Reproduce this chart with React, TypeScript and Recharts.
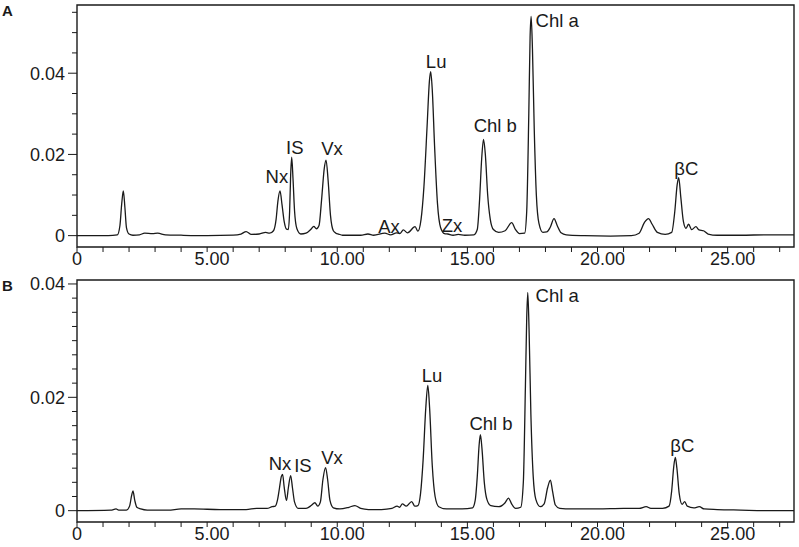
import React from "react";
import {
  LineChart,
  Line,
  XAxis,
  YAxis,
  ReferenceArea,
  ReferenceDot,
} from "recharts";

// retention time (min), absorbance (AU)
const traceA: [number, number][] = [
  [0, 0], [1.2, 0], [1.55, 0.0002], [1.65, 0.0025], [1.72, 0.008], [1.78, 0.011],
  [1.84, 0.007], [1.9, 0.002], [2.0, 0.0004], [2.15, 0.0001], [2.4, 0.0002],
  [2.6, 0.0006], [2.9, 0.0005], [3.1, 0.0006], [3.4, 0.0002], [4.0, 0.0001],
  [5.0, 0], [6.0, 0.0001], [6.3, 0.0004], [6.5, 0.001], [6.7, 0.0003],
  [7.0, 0.0004], [7.25, 0.0008], [7.4, 0.0006], [7.55, 0.0012], [7.65, 0.004],
  [7.72, 0.0085], [7.8, 0.011], [7.88, 0.0075], [7.96, 0.0035], [8.05, 0.0016],
  [8.12, 0.0015], [8.17, 0.006], [8.21, 0.015], [8.25, 0.0193], [8.3, 0.014],
  [8.36, 0.006], [8.45, 0.0017], [8.6, 0.0004], [8.8, 0.0006], [8.98, 0.0015],
  [9.1, 0.0023], [9.2, 0.0017], [9.3, 0.0025], [9.4, 0.009], [9.5, 0.0165],
  [9.57, 0.0186], [9.65, 0.0135], [9.74, 0.005], [9.85, 0.0012], [9.95, 0.0006],
  [10.05, 0.0004], [10.2, 0.0001], [10.9, 0.0001], [11.18, 0.0004], [11.4, 0.0001],
  [11.83, 0.0006], [12.05, 0.0002], [12.28, 0.0007], [12.4, 0.0005], [12.54, 0.0014],
  [12.7, 0.0007], [12.99, 0.0022], [13.1, 0.0011], [13.22, 0.004], [13.33, 0.012],
  [13.46, 0.028], [13.54, 0.038], [13.59, 0.0404], [13.65, 0.036], [13.74, 0.022],
  [13.85, 0.008], [13.97, 0.002], [14.12, 0.0005], [14.25, 0.0004], [14.45, 0.0001],
  [14.65, 0.0003], [14.9, 0.0001], [15.25, 0.0002], [15.38, 0.0015], [15.47, 0.009],
  [15.55, 0.019], [15.62, 0.0237], [15.69, 0.02], [15.78, 0.01], [15.88, 0.004],
  [16.0, 0.0015], [16.2, 0.0008], [16.45, 0.0012], [16.7, 0.0032], [16.85, 0.0015],
  [17.0, 0.0005], [17.2, 0.0006], [17.28, 0.006], [17.36, 0.03], [17.41, 0.049],
  [17.45, 0.054], [17.5, 0.046], [17.57, 0.026], [17.65, 0.01], [17.75, 0.003],
  [17.9, 0.0008], [18.05, 0.0009], [18.18, 0.002], [18.33, 0.0042], [18.45, 0.0025],
  [18.6, 0.0007], [18.8, 0.0002], [19.5, 0], [20.5, -0.0001], [21.3, 0],
  [21.6, 0.0006], [21.8, 0.0032], [21.96, 0.0042], [22.1, 0.0028], [22.3, 0.0008],
  [22.6, 0.0003], [22.85, 0.0008], [22.97, 0.006], [23.06, 0.0125], [23.12, 0.0143],
  [23.2, 0.0095], [23.3, 0.0035], [23.4, 0.0018], [23.5, 0.0028], [23.62, 0.0015],
  [23.78, 0.0022], [23.9, 0.0014], [24.07, 0.0012], [24.25, 0.0004], [24.6, 0.0001],
  [25.5, 0.0001], [26.5, 0.0002], [27.55, 0.0002],
];

const traceB: [number, number][] = [
  [0, 0], [1.3, 0.0001], [1.5, 0.0003], [1.6, 0.0001], [1.9, 0.0001], [2.02, 0.0008],
  [2.1, 0.0027], [2.15, 0.0035], [2.22, 0.0018], [2.3, 0.0006], [2.45, 0.0003],
  [2.7, 0.0001], [3.5, 0.0001], [4.0, 0.0003], [4.5, 0.0003], [5.5, 0.0002],
  [6.5, 0.0002], [6.9, 0.0004], [7.3, 0.0004], [7.5, 0.0007], [7.62, 0.0008],
  [7.7, 0.0018], [7.78, 0.004], [7.85, 0.006], [7.9, 0.0064], [7.96, 0.0042],
  [8.05, 0.0018], [8.12, 0.004], [8.21, 0.0062], [8.28, 0.004], [8.36, 0.0015],
  [8.5, 0.0004], [8.8, 0.0004], [9.0, 0.0009], [9.14, 0.0014], [9.25, 0.0008],
  [9.35, 0.0015], [9.45, 0.0055], [9.55, 0.0076], [9.63, 0.0055], [9.72, 0.0018],
  [9.85, 0.0005], [10.1, 0.0003], [10.45, 0.0006], [10.68, 0.0009], [10.9, 0.0004],
  [11.2, 0.0002], [11.7, 0.0002], [12.1, 0.0004], [12.3, 0.0008], [12.4, 0.0006],
  [12.5, 0.0012], [12.65, 0.0008], [12.86, 0.0016], [12.98, 0.0008], [13.1, 0.0009],
  [13.2, 0.003], [13.3, 0.009], [13.4, 0.018], [13.48, 0.0221], [13.55, 0.018],
  [13.65, 0.008], [13.76, 0.0025], [13.9, 0.0007], [14.2, 0.0003], [14.8, 0.0003],
  [15.2, 0.0005], [15.3, 0.0018], [15.38, 0.006], [15.45, 0.0115], [15.5, 0.0134],
  [15.56, 0.011], [15.65, 0.005], [15.75, 0.002], [15.9, 0.0009], [16.2, 0.0007],
  [16.45, 0.0014], [16.58, 0.0022], [16.7, 0.0012], [16.85, 0.0004], [17.05, 0.0006],
  [17.15, 0.005], [17.23, 0.022], [17.28, 0.034], [17.32, 0.0385], [17.37, 0.032],
  [17.44, 0.017], [17.53, 0.006], [17.63, 0.002], [17.8, 0.0007], [17.95, 0.0012],
  [18.08, 0.004], [18.19, 0.0054], [18.27, 0.0035], [18.38, 0.001], [18.55, 0.0004],
  [19.0, 0.0003], [20.0, 0.0003], [21.0, 0.0004], [21.6, 0.0004], [21.87, 0.0007],
  [22.05, 0.0004], [22.5, 0.0004], [22.75, 0.0008], [22.85, 0.0035], [22.93, 0.0078],
  [22.99, 0.0094], [23.05, 0.0075], [23.14, 0.003], [23.25, 0.0011], [23.35, 0.0016],
  [23.45, 0.0008], [23.7, 0.0005], [23.91, 0.0007], [24.1, 0.0003], [24.6, 0.0002],
  [25.5, 0.0001], [26.5, 0], [27.55, 0],
];

// peak names and where their labels sit (time, absorbance at text baseline)
const peaksA: [string, number, number][] = [
  ["Nx", 7.68, 0.0129],
  ["IS", 8.37, 0.0202],
  ["Vx", 9.8, 0.0198],
  ["Ax", 11.99, 0.0006],
  ["Lu", 13.8, 0.0413],
  ["Zx", 14.41, 0.0009],
  ["Chl b", 16.07, 0.0255],
  ["Chl a", 18.45, 0.0513],
  ["βC", 23.41, 0.0149],
];

const peaksB: [string, number, number][] = [
  ["Nx", 7.8, 0.0071],
  ["IS", 8.68, 0.0068],
  ["Vx", 9.8, 0.0083],
  ["Lu", 13.64, 0.0227],
  ["Chl b", 15.91, 0.0142],
  ["Chl a", 18.45, 0.0368],
  ["βC", 23.26, 0.0103],
];

const timeTicks = [
  0, 1, 2, 3, 4, 5, 6, 7, 8, 9, 10, 11, 12, 13, 14, 15, 16, 17, 18, 19, 20,
  21, 22, 23, 24, 25, 26, 27,
];
const absTicksA = [
  0, 0.005, 0.01, 0.015, 0.02, 0.025, 0.03, 0.035, 0.04, 0.045, 0.05, 0.055,
];
const absTicksB = [
  0, 0.0025, 0.005, 0.0075, 0.01, 0.0125, 0.015, 0.0175, 0.02, 0.0225, 0.025,
  0.0275, 0.03, 0.0325, 0.035, 0.0375, 0.04,
];

const FONT = "'Liberation Sans', Arial, sans-serif";
const INK = "#1a1a1a";
const X_MAX = 27.55;

const XTick = (props: any) => {
  const { x, y, payload } = props;
  const v = payload.value;
  const major = v % 5 === 0;
  const label = v === 0 ? "0" : v.toFixed(2);
  return (
    <g>
      <line x1={x} x2={x} y1={y} y2={y + 5} stroke={INK} strokeWidth={1} />
      {major && (
        <text
          x={v === 0 ? x : x + 5}
          y={y + 18}
          textAnchor="middle"
          fontSize={18}
          fontFamily={FONT}
          fill={INK}
        >
          {label}
        </text>
      )}
    </g>
  );
};

const YTick = (props: any) => {
  const { x, y, payload } = props;
  const v = payload.value;
  const r = v / 0.02;
  const major = Math.abs(r - Math.round(r)) < 1e-6;
  const label = v === 0 ? "0" : v.toFixed(2);
  return (
    <g>
      <line x1={x - (major ? 9 : 5)} x2={x} y1={y} y2={y} stroke={INK} strokeWidth={1} />
      {major && (
        <text
          x={x - 12}
          y={y + 6.5}
          textAnchor="end"
          fontSize={18}
          fontFamily={FONT}
          fill={INK}
        >
          {label}
        </text>
      )}
    </g>
  );
};

const PeakName = (name: string) => (props: any) => (
  <text
    x={props.cx}
    y={props.cy}
    textAnchor="middle"
    fontSize={18.5}
    fontFamily={FONT}
    fill={INK}
  >
    {name}
  </text>
);

function Chromatogram({
  trace,
  peaks,
  yTicks,
  yDomain,
  height,
  top,
}: {
  trace: [number, number][];
  peaks: [string, number, number][];
  yTicks: number[];
  yDomain: [number, number];
  height: number;
  top: number;
}) {
  const data = trace.map(([t, v]) => ({ t, v }));
  return (
    <LineChart
      width={799}
      height={height}
      data={data}
      margin={{ top, right: 5, bottom: 0, left: 7 }}
    >
      <XAxis
        type="number"
        dataKey="t"
        domain={[0, X_MAX]}
        ticks={timeTicks}
        interval={0}
        tick={<XTick />}
        tickLine={false}
        tickSize={0}
        tickMargin={0}
        axisLine={false}
        height={25}
        allowDataOverflow
      />
      <YAxis
        type="number"
        domain={yDomain}
        ticks={yTicks}
        interval={0}
        tick={<YTick />}
        tickLine={false}
        tickSize={0}
        tickMargin={0}
        axisLine={false}
        width={70}
        allowDataOverflow
      />
      <Line
        type="monotone"
        dataKey="v"
        stroke={INK}
        strokeWidth={1.3}
        dot={false}
        isAnimationActive={false}
      />
      <ReferenceArea
        x1={0}
        x2={X_MAX}
        y1={yDomain[0]}
        y2={yDomain[1]}
        fill="none"
        stroke={INK}
        strokeWidth={1.4}
        ifOverflow="visible"
      />
      {peaks.map(([name, t, v]) => (
        <ReferenceDot
          key={name}
          x={t}
          y={v}
          r={0}
          shape={PeakName(name)}
          ifOverflow="visible"
        />
      ))}
    </LineChart>
  );
}

export default function App() {
  return (
    <div
      style={{
        position: "absolute",
        left: 0,
        top: 0,
        width: 799,
        height: 547,
        background: "#fff",
      }}
    >
      <div style={{ position: "absolute", left: 0, top: 0 }}>
        <Chromatogram
          trace={traceA}
          peaks={peaksA}
          yTicks={absTicksA}
          yDomain={[-0.0028, 0.0568]}
          height={272}
          top={5}
        />
      </div>
      <div style={{ position: "absolute", left: 0, top: 272 }}>
        <Chromatogram
          trace={traceB}
          peaks={peaksB}
          yTicks={absTicksB}
          yDomain={[-0.002, 0.0407]}
          height={275}
          top={8}
        />
      </div>
      <svg
        width={799}
        height={547}
        style={{ position: "absolute", left: 0, top: 0, pointerEvents: "none" }}
      >
        <text x={2} y={16} fontSize={15} fontWeight="bold" fontFamily={FONT} fill={INK}>
          A
        </text>
        <text x={2} y={291} fontSize={15} fontWeight="bold" fontFamily={FONT} fill={INK}>
          B
        </text>
      </svg>
    </div>
  );
}
